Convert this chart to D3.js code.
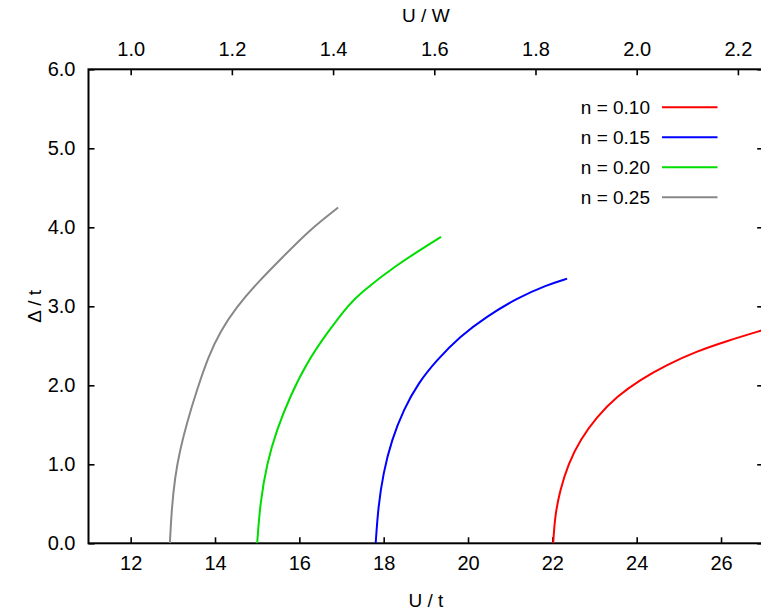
<!DOCTYPE html>
<html>
<head>
<meta charset="utf-8">
<script src="https://cdn.jsdelivr.net/npm/d3@7"></script>
<style>
  body { margin: 0; background: #fff; }
  svg { display: block; }
  text { font-family: "Liberation Sans", Arial, Helvetica, sans-serif; fill: #000; }
</style>
</head>
<body>
<div id="chart"></div>
<script>
// series labels and colours
const seriesNames = ["n = 0.10", "n = 0.15", "n = 0.20", "n = 0.25"];
const seriesColors = ["#ff0000", "#0000ff", "#00dd00", "#888888"];

// U / t and Δ / t, per series
const uN010 = [22.02, 22.06, 22.18, 22.38, 22.66, 23.05, 23.53, 24.08, 24.71, 25.42, 26.13, 27.0];
const dN010 = [0, 0.34, 0.67, 1.01, 1.31, 1.60, 1.86, 2.07, 2.26, 2.43, 2.56, 2.70];

const uN015 = [17.81, 17.87, 17.99, 18.19, 18.47, 18.82, 19.26, 19.81, 20.44, 21.15, 21.87, 22.35];
const dN015 = [0, 0.46, 0.89, 1.31, 1.69, 2.03, 2.32, 2.62, 2.87, 3.10, 3.27, 3.35];

const uN020 = [15.0, 15.07, 15.23, 15.46, 15.78, 16.17, 16.65, 17.20, 17.44, 18.23, 19.36];
const dN020 = [0, 0.51, 1.01, 1.43, 1.86, 2.28, 2.66, 3.04, 3.16, 3.50, 3.88];

const uN025 = [12.93, 12.97, 13.05, 13.17, 13.33, 13.57, 13.84, 14.12, 14.51, 14.99, 15.62, 16.25, 16.92];
const dN025 = [0, 0.42, 0.84, 1.18, 1.52, 1.94, 2.36, 2.68, 2.99, 3.29, 3.63, 3.97, 4.25];

// axis ticks
const xTicks = [12, 14, 16, 18, 20, 22, 24, 26];
const yTicks = [0, 1, 2, 3, 4, 5, 6];
const topTicks = [1.0, 1.2, 1.4, 1.6, 1.8, 2.0, 2.2];
const bandW = 12; // U/W = (U/t) / 12

const seriesU = [uN010, uN015, uN020, uN025];
const seriesD = [dN010, dN015, dN020, dN025];

const width = 761, height = 613;
const plotL = 88.5, plotR = 763.2, plotT = 69.3, plotB = 543.3;
const fontSize = "19px";
const tickFont = "20px";

const svg = d3.select("#chart").append("svg")
  .attr("width", width).attr("height", height);

const x = d3.scaleLinear().domain([11, 27]).range([plotL, plotR]);
const y = d3.scaleLinear().domain([0, 6]).range([plotB, plotT]);

const tickLen = 6;

// bottom axis
const xb = d3.axisBottom(x).tickValues(xTicks).tickSize(-tickLen).tickPadding(13).tickFormat(d3.format("d"));
const gxb = svg.append("g").attr("transform", `translate(0,${plotB})`).call(xb);

// top axis (U/W)
const xt = d3.axisTop(x).tickValues(topTicks.map(v => v * bandW)).tickSize(-tickLen).tickPadding(13)
  .tickFormat(d => d3.format(".1f")(d / bandW));
const gxt = svg.append("g").attr("transform", `translate(0,${plotT})`).call(xt);

// left axis
const yl = d3.axisLeft(y).tickValues(yTicks).tickSize(-tickLen).tickPadding(13).tickFormat(d3.format(".1f"));
const gyl = svg.append("g").attr("transform", `translate(${plotL},0)`).call(yl);

// right axis, ticks only
const yr = d3.axisRight(y).tickValues(yTicks).tickSize(-tickLen).tickFormat("");
const gyr = svg.append("g").attr("transform", `translate(${plotR},0)`).call(yr);

[gxb, gxt, gyl, gyr].forEach(g => {
  g.attr("font-family", null).attr("font-size", null);
  g.select(".domain").remove();
  g.selectAll(".tick line").attr("stroke", "#000").attr("stroke-width", 1.6);
  g.selectAll(".tick text").attr("fill", "#000").style("font-size", tickFont);
});

// frame
svg.append("rect")
  .attr("x", plotL).attr("y", plotT)
  .attr("width", plotR - plotL).attr("height", plotB - plotT)
  .attr("fill", "none").attr("stroke", "#000").attr("stroke-width", 2);

svg.append("clipPath").attr("id", "plot-clip")
  .append("rect").attr("x", plotL).attr("y", plotT).attr("width", plotR - plotL).attr("height", plotB - plotT);

const line = d3.line()
  .x(d => x(d[0]))
  .y(d => y(d[1]))
  .curve(d3.curveBasis);

const plot = svg.append("g").attr("clip-path", "url(#plot-clip)");
seriesU.forEach(function(us, i) {
  const pts = us.map((u, j) => [u, seriesD[i][j]]);
  plot.append("path")
    .datum(pts)
    .attr("d", line)
    .attr("fill", "none")
    .attr("stroke", seriesColors[i])
    .attr("stroke-width", 2);
});

// legend
const legend = svg.append("g");
seriesNames.forEach(function(name, i) {
  const ly = 107.3 + i * 30;
  legend.append("text")
    .style("font-size", fontSize)
    .attr("x", 650).attr("y", ly)
    .attr("dy", "0.35em")
    .attr("text-anchor", "end")
    .text(name);
  legend.append("line")
    .attr("x1", 662).attr("x2", 717.5)
    .attr("y1", ly).attr("y2", ly)
    .attr("stroke", seriesColors[i])
    .attr("stroke-width", 2);
});

// axis titles
svg.append("text").style("font-size", fontSize)
  .attr("x", (plotL + plotR) / 2).attr("y", 607)
  .attr("text-anchor", "middle").text("U / t");

svg.append("text").style("font-size", fontSize)
  .attr("x", (plotL + plotR) / 2).attr("y", 22)
  .attr("text-anchor", "middle").text("U / W");

svg.append("text").style("font-size", fontSize)
  .attr("transform", `translate(41,${(plotT + plotB) / 2}) rotate(-90)`)
  .attr("text-anchor", "middle").text("Δ / t");
</script>
</body>
</html>
